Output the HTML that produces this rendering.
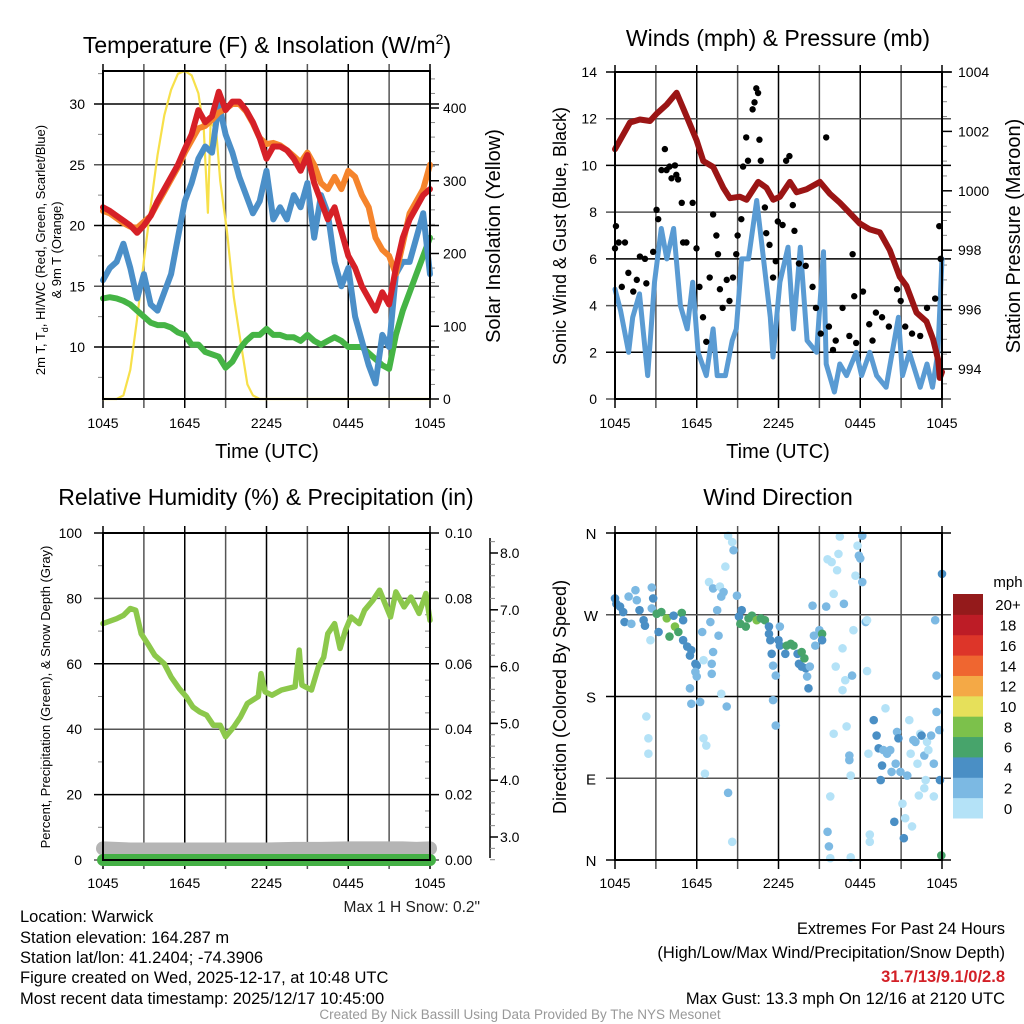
<!DOCTYPE html>
<html><head><meta charset="utf-8"><style>
html,body{margin:0;padding:0;background:#fff}
svg{display:block;font-family:"Liberation Sans",sans-serif}
</style></head><body>
<svg id="chart" width="1024" height="1024" viewBox="0 0 1024 1024" xmlns="http://www.w3.org/2000/svg">
<g id="g-tl"></g>
<g id="g-tr"></g>
<g id="g-bl"></g>
<g id="g-br"></g>
<text x="267" y="53" font-size="23" text-anchor="middle">Temperature (F) &amp; Insolation (W/m<tspan font-size="14" dy="-9">2</tspan><tspan dy="9">)</tspan></text>
<text x="778" y="46" font-size="23" text-anchor="middle">Winds (mph) &amp; Pressure (mb)</text>
<text x="266" y="505" font-size="23" text-anchor="middle">Relative Humidity (%) &amp; Precipitation (in)</text>
<text x="778" y="505" font-size="23" text-anchor="middle">Wind Direction</text>
<text x="267" y="458" font-size="20" text-anchor="middle">Time (UTC)</text>
<text x="778" y="458" font-size="20" text-anchor="middle">Time (UTC)</text>
<text transform="translate(45,250) rotate(-90)" font-size="13" text-anchor="middle">2m T, T<tspan font-size="9" dy="3">d</tspan><tspan dy="-3">, HI/WC (Red, Green, Scarlet/Blue)</tspan></text>
<text transform="translate(61,250) rotate(-90)" font-size="13" text-anchor="middle">&amp; 9m T (Orange)</text>
<text transform="translate(500,236) rotate(-90)" font-size="20" text-anchor="middle">Solar Insolation (Yellow)</text>
<text transform="translate(566,236) rotate(-90)" font-size="18" text-anchor="middle">Sonic Wind &amp; Gust (Blue, Black)</text>
<text transform="translate(1020,236) rotate(-90)" font-size="20" text-anchor="middle">Station Pressure (Maroon)</text>
<text transform="translate(50,697) rotate(-90)" font-size="13" text-anchor="middle">Percent, Precipitation (Green), &amp; Snow Depth (Gray)</text>
<text transform="translate(566,697) rotate(-90)" font-size="18" text-anchor="middle">Direction (Colored By Speed)</text>
<text x="480" y="912" font-size="15.5" text-anchor="end" fill="#222">Max 1 H Snow: 0.2"</text>
<g font-size="16.5" fill="#000">
<text x="20" y="922">Location: Warwick</text>
<text x="20" y="943">Station elevation: 164.287 m</text>
<text x="20" y="963">Station lat/lon: 41.2404; -74.3906</text>
<text x="20" y="983">Figure created on Wed, 2025-12-17, at 10:48 UTC</text>
<text x="20" y="1004">Most recent data timestamp: 2025/12/17 10:45:00</text>
</g>
<g font-size="16.5" text-anchor="end">
<text x="1005" y="934">Extremes For Past 24 Hours</text>
<text x="1005" y="958">(High/Low/Max Wind/Precipitation/Snow Depth)</text>
<text x="1005" y="982" fill="#d32027" font-weight="bold">31.7/13/9.1/0/2.8</text>
<text x="1005" y="1004">Max Gust: 13.3 mph On 12/16 at 2120 UTC</text>
</g>
<text x="520" y="1019" font-size="13.5" fill="#999" text-anchor="middle">Created By Nick Bassill Using Data Provided By The NYS Mesonet</text>
</svg>
<script>
// ---------- data ----------
const xTickLabels = ["1045","1645","2245","0445","1045"];
const tempRed = [21.5,21.2,20.8,20.4,20,19.4,20,20.8,22,23,24,25,26.3,27.5,29.5,28.5,29,31,29.5,30.2,30.2,29.5,28.5,27.2,25.5,26.5,26.5,26.2,25.5,24.5,25.8,23.5,22,20.5,21.5,19.5,17.5,16.5,15,14,13,14.5,13.5,16.5,19,20.5,21.5,22.5,23];
const tempOrange = [21.2,21,20.6,20.2,19.9,19.8,20.3,20.8,21.8,22.8,23.8,24.8,26,27,28,28.2,28.7,29.3,29.6,30,30,29.4,28.4,27.2,26.7,26.8,26.6,26.2,25.7,25.2,26,25,23.5,23,24,23,24.5,24,22.5,21.5,19,18,17.5,16,18.5,21,22,23,25];
const tempBlue = [15.5,16.5,17,18.5,16.5,14,16,13.5,13,14.5,16,19,22,23.5,25.5,26.5,26,30,27.5,26,24,22.5,21,22,24.5,20.5,21.5,20.5,22.5,21.5,23.5,19,22.5,21,17,15,16.5,12.5,10.5,8.5,7,11,10,16,17,17,19,21,16];
const tempGreen = [14,14.1,14,13.8,13.5,13,12.5,12,11.8,11.8,11.6,11.2,11,10.2,10.2,9.6,9.4,9.2,8.3,8.8,9.8,10.5,11,11,11.5,11,11,10.8,10.8,10.5,11,10.5,10.2,10.5,10.8,10.5,10,10,10,9.5,9,8.5,8.2,11,13,14.5,16,17.5,19];
const solarHours = [0,1,1.5,2,2.5,3,3.5,4,4.5,5,5.5,6,6.5,7,7.4,7.7,7.9,8.3,8.6,9.1,9.6,10,10.6,11,11.5,12,24];
const solarVals = [0,0,5,40,110,190,265,335,390,425,447,451,445,420,370,256,380,370,300,230,140,90,20,5,0,0,0];
const windHours = [0,0.4,1.0,1.3,1.8,2.4,2.9,3.4,3.8,4.3,4.8,5.3,5.7,6.1,6.7,7.2,7.5,8.1,8.6,8.9,9.3,9.8,10.4,10.9,11.4,11.6,12.1,12.7,13.1,13.6,14.1,14.8,15.3,15.5,16.1,16.5,17.0,17.7,18.1,18.7,19.2,19.9,20.8,21.1,21.6,22.4,22.9,23.3,23.7,24];
const windVals = [4.7,3.8,2,3.5,4.5,1,5,7.3,6,7.3,4,3,5,2,1,3,1,1,2.5,3,6,6,8.5,6,3.5,1.8,5,6.5,3,6.5,2.5,2,6.3,1.5,0.3,1.5,1,2,1,2,1,0.5,3.5,1,2,0.5,1.5,0.5,2,6];
const gustHours = [0,0.07,0.27,0.5,0.73,0.98,1.34,1.6,1.83,2.2,2.3,2.8,3.05,3.17,3.41,3.66,3.78,4.0,4.15,4.4,4.5,4.63,4.9,5.0,5.24,5.7,5.98,6.2,6.46,6.7,6.95,7.2,7.44,7.56,7.7,7.9,8.2,8.4,8.66,8.9,9.0,9.27,9.4,9.63,9.76,10.1,10.24,10.37,10.5,10.6,10.7,11.0,11.1,11.34,11.6,11.8,11.95,12.3,12.56,12.8,13.05,13.17,13.5,14.0,14.5,14.75,15.1,15.5,15.7,16.0,16.2,16.7,17.2,17.44,17.56,17.7,18.2,18.66,18.9,19.15,19.6,20.1,20.7,20.97,21.3,21.8,22.4,22.9,23.5,23.8,23.9];
const gustVals = [6.45,7.4,6.7,4.8,6.7,5.4,4.6,5.1,6.1,6.0,4.95,6.3,8.1,7.7,9.8,10.7,9.8,9.95,9.45,10.0,9.6,9.4,8.4,6.7,6.7,8.4,6.45,4.8,3.5,2.45,5.2,7.9,7.0,6.2,4.7,3.9,5.1,4.2,5.2,6.2,7.0,7.7,9.95,11.2,10.2,12.4,12.7,13.3,13.1,11.1,10.2,8.2,7.1,6.6,5.2,5.9,7.6,7.45,10.2,10.4,8.3,7.2,5.8,5.7,4.8,3.9,2.8,11.2,3.1,2.1,2.5,3.9,2.7,6.2,4.4,2.4,4.6,3.2,2.5,3.7,3.5,3.1,4.7,4.2,3.1,2.8,2.7,3.9,4.3,7.4,6.0];
const presHours = [0,1.1,1.83,2.57,3.06,3.79,4.52,5.26,5.99,6.48,7.21,7.95,8.43,9.17,9.66,10.51,11.12,11.61,12.1,12.84,13.33,14.06,15.04,15.77,16.5,17.24,17.97,18.7,19.44,20.17,20.9,21.39,22.13,22.86,23.35,23.72,23.84,24];
const presVals = [1001.4,1002.3,1002.4,1002.35,1002.6,1002.9,1003.3,1002.5,1001.7,1001.0,1000.8,1000.1,999.75,999.8,999.7,1000.3,1000.1,999.7,999.8,1000.3,999.95,1000.05,1000.3,999.9,999.6,999.25,998.9,998.7,998.6,998.0,997.1,996.8,995.9,995.6,995.0,994.3,993.7,993.9];
const rhHours = [0,1,1.5,2.0,2.4,2.8,3.3,3.8,4.5,5.0,5.6,6.1,6.6,7.1,7.6,8.1,8.6,9.0,9.6,10.1,10.6,11.4,11.6,11.9,12.4,13.1,14.1,14.4,14.6,15.3,15.8,16.2,16.5,17.0,17.4,17.8,18.2,18.8,19.2,19.8,20.3,21.1,21.5,22.1,22.6,23.2,23.7,24];
const rhVals = [72.3,73.8,74.8,76.9,76.4,69.2,66,62.6,60,56,52.4,50,46.8,45.3,44.3,41.2,41.2,37.7,40.7,43.8,47.9,50,57,51.4,50.4,52,53,64.2,53.5,52,59,62,69.2,72.3,64.7,70.3,74.3,72.3,76.4,79.4,82.5,74.3,82,77.4,80.4,75.4,81.5,73.3];
const precipHours = [0,24];
const precipVals = [0,0];
const snowHours = [0,2,4,6,8,10,12,14,16,18,19,20,21,22,23,24];
const snowVals = [2.8,2.78,2.78,2.78,2.78,2.78,2.78,2.79,2.79,2.8,2.8,2.8,2.8,2.8,2.79,2.8];
const dirHours = [0,0.1,0.37,0.6,0.7,1,1.2,1.5,1.6,1.8,2.1,2.2,2.7,2.8,2.7,2.6,2.3,2.45,2.45,3.06,3.2,3.4,3.8,4.0,4.3,4.4,4.65,4.9,5.0,5.0,5.3,5.6,5.5,5.9,6.0,5.9,6.0,5.5,5.6,6.25,6.4,6.5,6.5,6.7,6.6,6.9,7.0,7.1,7.2,7.2,7.1,7.5,7.6,7.7,7.8,7.97,7.8,8.1,8.2,8.3,8.6,8.7,8.3,8.6,8.95,9.1,9.3,9.2,9.6,9.8,10.05,10.4,10.7,11.0,11.3,11.3,11.4,11.5,11.6,11.8,11.6,11.8,12.0,12.1,12.1,12.5,12.6,12.9,13.1,13.4,13.5,13.7,13.9,13.7,14.0,14.1,14.2,14.3,14.5,14.6,14.7,15.0,15.2,15.2,15.5,15.6,15.6,15.7,15.8,15.8,15.9,16.05,16.05,16.2,16.3,16.4,16.5,16.7,16.7,16.8,16.9,17.0,17.2,17.2,17.3,17.3,17.4,17.5,17.65,17.8,17.9,18.0,18.15,18.15,18.4,18.5,18.5,18.6,18.7,18.7,18.99,19.2,19.35,19.5,19.6,19.7,19.85,19.97,20.2,20.3,20.5,20.6,20.7,20.8,20.95,21.1,21.2,21.3,21.45,21.6,21.7,21.8,21.9,22.05,22.2,22.3,22.4,22.5,22.7,22.7,22.8,22.9,23.0,23.2,23.4,23.4,23.5,23.6,23.6,23.8,23.85,24.0,23.95];
const dirDeg = [288,282,279,273,262,290,260,297,286,275,264,258,300,288,277,242,158,134,117,271,251,273,266,246,269,257,251,272,264,242,235,231,225,216,214,207,202,189,172,174,251,220,134,126,95,306,262,216,299,229,205,275,247,301,290,295,183,323,169,357,350,341,74,20,291,268,275,260,257,266,269,264,266,264,257,249,242,227,214,203,176,148,242,257,236,227,236,238,236,227,216,229,222,213,211,202,189,213,280,247,236,253,249,242,279,331,31,15,2,70,328,293,139,213,319,337,356,233,187,282,198,147,115,110,93,3,203,253,313,346,335,332,357,306,262,264,208,117,28,20,154,137,123,88,104,121,167,117,121,97,42,106,141,134,97,62,24,46,93,154,117,37,132,130,106,71,139,137,115,79,88,130,121,137,106,70,264,203,163,143,88,315,5];
const dirSpeed = [5,5,5,5,5,3,3,3,3,5,5,5,3,5,3,1,1,1,1,7,5,7,9,7,5,9,7,7,5,5,5,5,5,5,5,3,3,3,3,3,3,1,1,1,1,1,3,3,3,3,3,3,3,1,3,3,1,1,3,1,1,3,3,1,3,5,5,7,7,7,7,9,7,7,5,5,5,5,3,3,3,3,5,3,5,5,7,7,7,5,5,7,7,5,5,3,5,3,3,3,3,3,7,5,3,1,3,3,1,1,1,1,1,1,1,1,1,1,1,3,1,1,3,3,1,1,3,1,1,1,3,3,3,3,3,1,1,1,1,1,5,5,5,5,5,3,1,3,3,3,5,3,3,5,3,1,5,1,3,1,1,1,3,3,1,1,1,5,3,1,1,1,1,3,3,1,3,3,3,3,5,5,7];
const speedBins = ["0","2","4","6","8","10","12","14","16","18","20+"];
const speedColors = ["#b4e2f7","#7cb9e3","#4a8fc5","#47a46b","#7cc14b","#e6e05a","#f4a946","#ef6630","#dd3529","#bd1c26","#941a1b"];

// ---------- helpers ----------
const NS = "http://www.w3.org/2000/svg";
function mk(parent, tag, attrs){const e=document.createElementNS(NS,tag);for(const k in attrs)e.setAttribute(k,attrs[k]);parent.appendChild(e);return e;}
function lin(d0,d1,r0,r1){return v=>r0+(v-d0)*(r1-r0)/(d1-d0);}

function frameX(g, L, R, T, B, xs, withLabels, labelY){
  for(let i=0;i<=8;i++){
    const x=xs(i*3);
    const ln=mk(g,'line',{x1:x,x2:x,y1:T-7,y2:B+9,stroke:(i%2==0)?'#000':'#555','stroke-width':1.5});
    
    
  }
  xTickLabels.forEach((t,i)=>{
    const tx=mk(g,'text',{x:xs(i*6),y:labelY,'font-size':14,'text-anchor':'middle'});
    tx.textContent=t;
    
    
  });
}
function hgrid(g,L,R,y,dark){
  const ln=mk(g,'line',{x1:L-9,x2:R+9,y1:y,y2:y,stroke:dark?'#000':'#555','stroke-width':1.5});
  
  
}
function minorTicks(g,x,dir,ys,vals){
  vals.forEach(v=>{const y=ys(v);const t=mk(g,'line',{x1:x,x2:x+dir*5,y1:y,y2:y,stroke:'#888','stroke-width':1});
    
    });
}
function label(g,x,y,txt,anchor,name){
  const t=mk(g,'text',{x:x,y:y,'font-size':14,'text-anchor':anchor});
  t.textContent=txt;
  
  
}
function polyline(g,hours,vals,xs,ys,color,w,name){
  const pts=hours.map((h,i)=>xs(h).toFixed(1)+','+ys(vals[i]).toFixed(1)).join(' ');
  const p=mk(g,'polyline',{points:pts,fill:'none',stroke:color,'stroke-width':w,'stroke-linejoin':'round','stroke-linecap':'round'});
  
  
}
function box(g,L,R,T,B){
  const r=mk(g,'rect',{x:L,y:T,width:R-L,height:B-T,fill:'none',stroke:'#000','stroke-width':2});
  
  
}
function range(a,b,s){const r=[];for(let v=a;v<=b+1e-9;v+=s)r.push(+v.toFixed(4));return r;}

// ---------- Temperature panel ----------
(function(){
  const g=document.getElementById('g-tl');
  const L=103,R=430,T=71,B=399;
  const xs=lin(0,24,L,R), ys=lin(10,30,347,104), ysR=lin(0,400,399,108);
  frameX(g,L,R,T,B,xs,true,428);
  [10,15,20,25,30].forEach((v,i)=>{hgrid(g,L,R,ys(v),i%2==0);label(g,85,ys(v)+5,String(v),'end','temp-y-tick-label');});
  minorTicks(g,L,-1,ys,[7.5,12.5,17.5,22.5,27.5,32.5]);
  minorTicks(g,R,1,ysR,range(20,440,20).filter(v=>v%100!==0));
  [0,100,200,300,400].forEach(v=>{const t=mk(g,'line',{x1:R,x2:R+9,y1:ysR(v),y2:ysR(v),stroke:'#000','stroke-width':1.5});
    
    
    label(g,443,ysR(v)+5,String(v),'start','solar-y-tick-label');});
  polyline(g,solarHours,solarVals,xs,ysR,'#f7e04a',2.2,'solar-insolation-line');
  const hh=tempRed.map((_,i)=>i*0.5);
  polyline(g,hh,tempGreen,xs,ys,'#45b445',6,'dewpoint-line');
  polyline(g,hh,tempBlue,xs,ys,'#4b8fc8',6,'wind-chill-line');
  polyline(g,hh,tempOrange,xs,ys,'#f5842c',6,'temp-9m-line');
  polyline(g,hh,tempRed,xs,ys,'#d62027',6,'temp-2m-line');
  box(g,L,R,T,B);
})();

// ---------- Winds panel ----------
(function(){
  const g=document.getElementById('g-tr');
  const L=615,R=942,T=72,B=399;
  const xs=lin(0,24,L,R), ys=lin(0,14,399,72), ysR=lin(994,1004,369,72);
  frameX(g,L,R,T,B,xs,true,428);
  [0,2,4,6,8,10,12,14].forEach((v,i)=>{hgrid(g,L,R,ys(v),i%2==1);label(g,597,ys(v)+5,String(v),'end','wind-y-tick-label');});
  minorTicks(g,R,1,ysR,range(993.5,1003.5,0.5).filter(v=>v%2!==0));
  [994,996,998,1000,1002,1004].forEach(v=>{const t=mk(g,'line',{x1:R,x2:R+10,y1:ysR(v),y2:ysR(v),stroke:'#000','stroke-width':1.5});
    
    
    label(g,958,ysR(v)+5,String(v),'start','pressure-y-tick-label');});
  polyline(g,windHours,windVals,xs,ys,'#5a9bd3',5,'sonic-wind-line');
  gustHours.forEach((h,i)=>{const c=mk(g,'circle',{cx:xs(h),cy:ys(gustVals[i]),r:3.2,fill:'#000'});
    
    });
  polyline(g,presHours,presVals,xs,ysR,'#9b1515',6,'pressure-line');
  box(g,L,R,T,B);
})();

// ---------- Humidity panel ----------
(function(){
  const g=document.getElementById('g-bl');
  const L=103,R=430,T=533,B=860;
  const xs=lin(0,24,L,R), ys=lin(0,100,860,533), ysR=lin(0,0.1,860,533), ysS=lin(3,8,837,553);
  frameX(g,L,R,T,B,xs,true,888);
  [0,20,40,60,80,100].forEach((v,i)=>{hgrid(g,L,R,ys(v),i%2==1);label(g,82,ys(v)+5,String(v),'end','rh-y-tick-label');});
  minorTicks(g,L,-1,ys,[10,30,50,70,90]);
  minorTicks(g,R,-1,ysR,range(0.005,0.095,0.005).filter((v,i)=>i%4!==3));
  ["0.00","0.02","0.04","0.06","0.08","0.10"].forEach((t,i)=>label(g,445,ysR(i*0.02)+5,t,'start','precip-y-tick-label'));
  const ax=mk(g,'line',{x1:490,x2:490,y1:538,y2:858,stroke:'#000','stroke-width':1.5});
  
  
  minorTicks(g,490,1,ysS,range(2.6,8.3,0.2));
  ["3.0","4.0","5.0","6.0","7.0","8.0"].forEach((t,i)=>{const y=ysS(3+i);const tk=mk(g,'line',{x1:490,x2:498,y1:y,y2:y,stroke:'#000','stroke-width':1.5});
    
    
    label(g,500,y+5,t,'start','snow-y-tick-label');});
  polyline(g,snowHours,snowVals,xs,ysS,'#b5b5b5',14,'snow-depth-line');
  polyline(g,precipHours,precipVals,xs,ysR,'#44b045',12,'precipitation-line');
  polyline(g,rhHours,rhVals,xs,ys,'#8cc84b',5.5,'relative-humidity-line');
  box(g,L,R,T,B);
})();

// ---------- Wind direction panel ----------
(function(){
  const g=document.getElementById('g-br');
  const L=615,R=942,T=533,B=860;
  const xs=lin(0,24,L,R), ys=lin(0,360,860,533);
  frameX(g,L,R,T,B,xs,true,888);
  ["N","E","S","W","N"].forEach((t,i)=>{hgrid(g,L,R,ys(i*90),i%2==0);const tx=mk(g,'text',{x:591,y:ys(i*90)+6,'font-size':15,'text-anchor':'middle'});tx.textContent=t;
    
    });
  dirHours.forEach((h,i)=>{const b=Math.min(10,Math.floor(dirSpeed[i]/2));
    const c=mk(g,'circle',{cx:xs(h),cy:ys(dirDeg[i]),r:4.3,fill:speedColors[b]});
    
    });
  box(g,L,R,T,B);
  const cb=mk(g,'g',{});
  
  
  const segH=(818-594)/speedBins.length;
  speedBins.forEach((t,i)=>{const y=818-(i+1)*segH;
    const r=mk(cb,'rect',{x:953,y:y,width:30,height:segH+0.5,fill:speedColors[i]});
    
    
    const tx=mk(cb,'text',{x:1008,y:y+segH/2+6,'font-size':15,'text-anchor':'middle'});tx.textContent=t;
    
    });
  const m=mk(cb,'text',{x:1008,y:587,'font-size':15,'text-anchor':'middle'});m.textContent='mph';
  
  
})();
</script>
</body></html>
